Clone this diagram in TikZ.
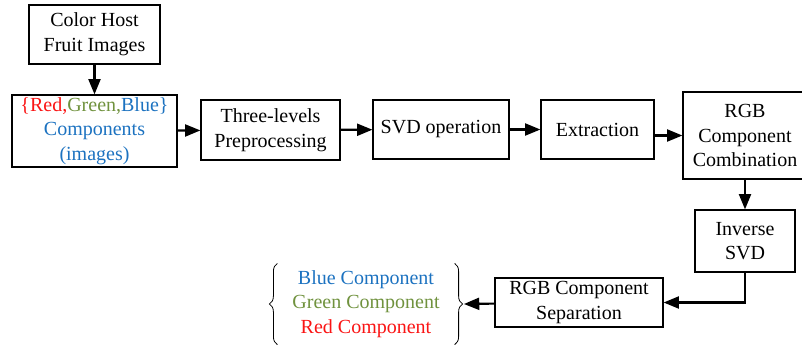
\documentclass[tikz,border=0pt]{standalone}
\usepackage{fontspec}
\setmainfont{Liberation Serif}
\usetikzlibrary{arrows.meta,decorations.pathreplacing}

\definecolor{compred}{RGB}{250,20,20}
\definecolor{compgreen}{RGB}{112,146,62}
\definecolor{compblue}{RGB}{28,114,192}

\tikzset{
  stagebox/.style={draw, line width=0.9pt, align=center, inner sep=0pt,
    font=\fontsize{15}{18.5}\selectfont},
  flow/.style={line width=1.6pt, -{Triangle[length=11.5pt,width=9pt]}},
  curly/.style={decorate, decoration={brace, amplitude=6pt}, line width=0.6pt}
}

\begin{document}
\begin{tikzpicture}[x=0.75pt, y=-0.75pt]
    \useasboundingbox (0,0) rectangle (802,351);

    % blocs du haut
    \node[stagebox, minimum width=98.25pt, minimum height=44.25pt] (host) at (94.5,34.5)
        {Color Host\\Fruit Images};
    \node[stagebox, minimum width=123.75pt, minimum height=54pt] (comp) at (94.5,131)
        {\textcolor{compred}{\{Red,}\textcolor{compgreen}{Green,}\textcolor{compblue}{Blue\}}\\
         \textcolor{compblue}{Components}\\\textcolor{compblue}{(images)}};
    \node[stagebox, minimum width=104.25pt, minimum height=45pt] (prep) at (270.5,130)
        {Three-levels\\Preprocessing};
    \node[stagebox, minimum width=102pt, minimum height=44.25pt] (svd) at (441,129.5)
        {SVD operation};
    \node[stagebox, minimum width=84.75pt, minimum height=44.25pt] (extr) at (597.5,129.5)
        {Extraction};
    \node[stagebox, minimum width=93pt, minimum height=65.25pt] (comb) at (745,135.5)
        {RGB\\Component\\Combination};

    % blocs du bas
    \node[stagebox, minimum width=75pt, minimum height=46.5pt] (isvd) at (745,241)
        {Inverse\\SVD};
    \node[stagebox, minimum width=126pt, minimum height=36.75pt] (sep) at (579,302.5)
        {RGB Component\\Separation};
    \node[stagebox, draw=none, minimum width=132pt, minimum height=60pt] (out) at (366,304)
        {\textcolor{compblue}{Blue Component}\\
         \textcolor{compgreen}{Green Component}\\
         \textcolor{compred}{Red Component}};
    \draw[curly] (out.south west) -- (out.north west);
    \draw[curly] (out.north east) -- (out.south east);

    % fleches
    \draw[flow] (host) -- (comp);
    \draw[flow] (comp) -- (prep);
    \draw[flow] (prep) -- (svd);
    \draw[flow] (svd) -- (extr);
    \draw[flow] (extr.east |- comb.west) -- (comb.west);
    \draw[flow] (comb) -- (isvd);
    \draw[flow] (isvd.south) |- (sep.east);
    \draw[flow] (sep) -- ([xshift=7pt]out.east);

\end{tikzpicture}
\end{document}
